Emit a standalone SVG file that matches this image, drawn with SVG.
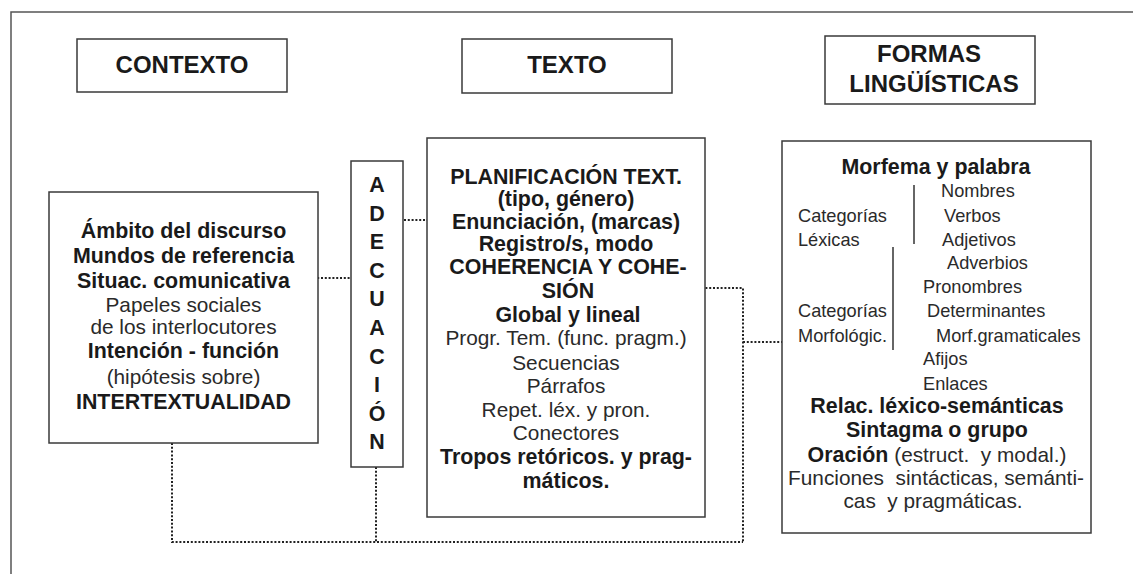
<svg xmlns="http://www.w3.org/2000/svg" width="1133" height="574" viewBox="0 0 1133 574">
<style>
.box{fill:#fff;stroke:#3a3a3a;stroke-width:1.5}
.frame{fill:none;stroke:#555;stroke-width:1.5}
.dot{fill:none;stroke:#222;stroke-width:2;stroke-dasharray:2 1.8}
.h{font-family:"Liberation Sans",Arial,sans-serif;font-weight:bold;font-size:24px;fill:#1a1a1a;text-anchor:middle}
.b{font-family:"Liberation Sans",Arial,sans-serif;font-weight:bold;font-size:21.4px;fill:#1a1a1a;text-anchor:middle}
.r{font-family:"Liberation Sans",Arial,sans-serif;font-weight:normal;font-size:20.8px;fill:#2a2a2a;text-anchor:middle}
.s{font-family:"Liberation Sans",Arial,sans-serif;font-weight:normal;font-size:18.2px;fill:#2a2a2a;text-anchor:start}
.vl{stroke:#333;stroke-width:1.5}
</style>
<rect width="1133" height="574" fill="#fff"/>
<path class="frame" d="M11,574 V12 H1133"/>

<g id="hdr-contexto">
<rect class="box" x="77" y="39" width="210" height="53"/>
<text class="h" x="182" y="73">CONTEXTO</text>
</g>
<g id="hdr-texto">
<rect class="box" x="462" y="39" width="210" height="54"/>
<text class="h" x="567" y="73">TEXTO</text>
</g>
<g id="hdr-formas">
<rect class="box" x="825" y="36" width="210" height="68"/>
<text class="h" x="929" y="62">FORMAS</text>
<text class="h" x="934" y="92">LINGÜÍSTICAS</text>
</g>

<g id="connectors">
<path class="dot" d="M302,252 V313"/>
<path class="dot" d="M302,278 H351"/>
<path class="dot" d="M404,220 H440"/>
<path class="dot" d="M675,272 V318"/>
<path class="dot" d="M675,288 H743 V542"/>
<path class="dot" d="M743,342 H782"/>
<path class="dot" d="M172,443 V542 H743"/>
<path class="dot" d="M376,467 V542"/>
</g>

<g id="contexto">
<rect class="box" x="49" y="192" width="269" height="251"/>
<text class="b" x="183.5" y="238">Ámbito del discurso</text>
<text class="b" x="183.5" y="263">Mundos de referencia</text>
<text class="b" x="183.5" y="288">Situac. comunicativa</text>
<text class="r" x="183.5" y="312">Papeles sociales</text>
<text class="r" x="183.5" y="333.5">de los interlocutores</text>
<text class="b" x="183.5" y="358">Intención - función</text>
<text class="r" x="183.5" y="384">(hipótesis sobre)</text>
<text class="b" x="183.5" y="409">INTERTEXTUALIDAD</text>
</g>

<g id="adecuacion">
<rect class="box" x="351" y="161" width="52" height="306"/>
<text class="b" x="377" y="192">A</text>
<text class="b" x="377" y="220.6">D</text>
<text class="b" x="377" y="249.2">E</text>
<text class="b" x="377" y="277.8">C</text>
<text class="b" x="377" y="306.4">U</text>
<text class="b" x="377" y="335">A</text>
<text class="b" x="377" y="363.6">C</text>
<text class="b" x="377" y="392.2">I</text>
<text class="b" x="377" y="420.8">Ó</text>
<text class="b" x="377" y="449.4">N</text>
</g>

<g id="texto">
<rect class="box" x="427" y="138" width="278" height="379"/>
<text class="b" x="566" y="183.5">PLANIFICACIÓN TEXT.</text>
<text class="b" x="566" y="206">(tipo, género)</text>
<text class="b" x="566" y="228.5">Enunciación, (marcas)</text>
<text class="b" x="566" y="251">Registro/s, modo</text>
<text class="b" x="568" y="274">COHERENCIA Y COHE-</text>
<text class="b" x="568" y="298">SIÓN</text>
<text class="b" x="568" y="322">Global y lineal</text>
<text class="r" x="566" y="345">Progr. Tem. (func. pragm.)</text>
<text class="r" x="566" y="370">Secuencias</text>
<text class="r" x="566" y="393">Párrafos</text>
<text class="r" x="566" y="417">Repet. léx. y pron.</text>
<text class="r" x="566" y="440">Conectores</text>
<text class="b" x="566" y="464">Tropos retóricos. y prag-</text>
<text class="b" x="566" y="488">máticos.</text>
</g>

<g id="formas">
<rect class="box" x="782" y="141" width="309" height="392"/>
<text class="b" x="936" y="174">Morfema y palabra</text>
<line class="vl" x1="914" y1="185" x2="914" y2="244"/>
<line class="vl" x1="893" y1="247" x2="893" y2="350"/>
<text class="s" x="941" y="197">Nombres</text>
<text class="s" x="798" y="222">Categorías</text>
<text class="s" x="944" y="222">Verbos</text>
<text class="s" x="798" y="246">Léxicas</text>
<text class="s" x="942" y="246">Adjetivos</text>
<text class="s" x="947" y="269">Adverbios</text>
<text class="s" x="923" y="293">Pronombres</text>
<text class="s" x="798" y="317">Categorías</text>
<text class="s" x="927" y="317">Determinantes</text>
<text class="s" x="798" y="342">Morfológic.</text>
<text class="s" x="936" y="342">Morf.gramaticales</text>
<text class="s" x="923" y="365">Afijos</text>
<text class="s" x="923" y="390">Enlaces</text>
<text class="b" x="937" y="413">Relac. léxico-semánticas</text>
<text class="b" x="937" y="437">Sintagma o grupo</text>
<text class="r" x="937" y="462" xml:space="preserve"><tspan font-weight="bold" font-size="21.4px" fill="#1a1a1a">Oración</tspan> (estruct.  y modal.)</text>
<text class="r" x="936" y="485" xml:space="preserve">Funciones  sintácticas, semánti-</text>
<text class="r" x="933" y="508" xml:space="preserve">cas  y pragmáticas.</text>
</g>
</svg>
